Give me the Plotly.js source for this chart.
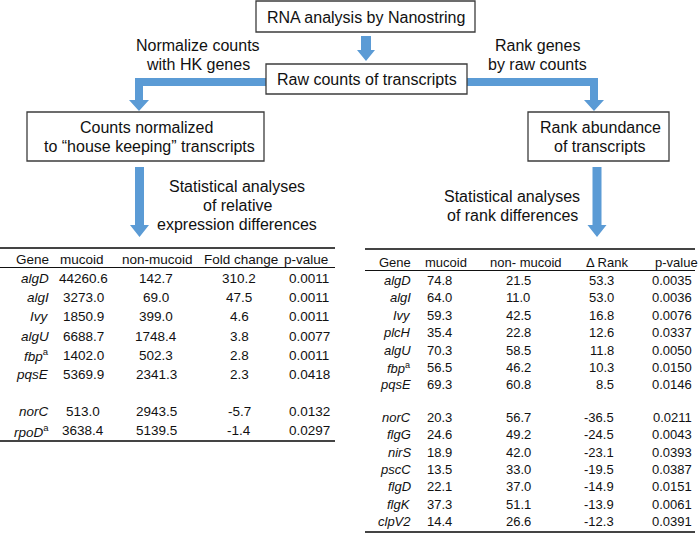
<!DOCTYPE html>
<html>
<head>
<meta charset="utf-8">
<script src="https://cdn.plot.ly/plotly-3.0.1.min.js"></script>
<style>html,body{margin:0;padding:0;background:#fff;}#chart{width:700px;height:534px;}</style>
</head>
<body>
<div id="chart"></div>
<script>
// ---------- Data ----------
const leftHeaders = ['Gene', 'mucoid', 'non-mucoid', 'Fold change', 'p-value'];
const leftGenes = ['algD', 'algI', 'Ivy', 'algU', 'fbp', 'pqsE', 'norC', 'rpoD'];
const leftFootnotes = ['', '', '', '', 'a', '', '', 'a'];
const leftMucoid = [44260.6, 3273.0, 1850.9, 6688.7, 1402.0, 5369.9, 513.0, 3638.4];
const leftNonMucoid = [142.7, 69.0, 399.0, 1748.4, 502.3, 2341.3, 2943.5, 5139.5];
const leftFoldChange = [310.2, 47.5, 4.6, 3.8, 2.8, 2.3, -5.7, -1.4];
const leftPValue = [0.0011, 0.0011, 0.0011, 0.0077, 0.0011, 0.0418, 0.0132, 0.0297];
const leftUpCount = 6;

const rightHeaders = ['Gene', 'mucoid', 'non- mucoid', '\u0394 Rank', 'p-value'];
const rightGenes = ['algD', 'algI', 'Ivy', 'plcH', 'algU', 'fbp', 'pqsE', 'norC', 'flgG', 'nirS', 'pscC', 'flgD', 'flgK', 'clpV2'];
const rightFootnotes = ['', '', '', '', '', 'a', '', '', '', '', '', '', '', ''];
const rightMucoid = [74.8, 64.0, 59.3, 35.4, 70.3, 56.5, 69.3, 20.3, 24.6, 18.9, 13.5, 22.1, 37.3, 14.4];
const rightNonMucoid = [21.5, 11.0, 42.5, 22.8, 58.5, 46.2, 60.8, 56.7, 49.2, 42.0, 33.0, 37.0, 51.1, 26.6];
const rightDeltaRank = [53.3, 53.0, 16.8, 12.6, 11.8, 10.3, 8.5, -36.5, -24.5, -23.1, -19.5, -14.9, -13.9, -12.3];
const rightPValue = [0.0035, 0.0036, 0.0076, 0.0337, 0.0050, 0.0150, 0.0146, 0.0211, 0.0043, 0.0393, 0.0387, 0.0151, 0.0061, 0.0391];
const rightUpCount = 7;

const flowTop = 'RNA analysis by Nanostring';
const flowRaw = 'Raw counts of transcripts';
const flowLeftEdge = ['Normalize counts', 'with HK genes'];
const flowRightEdge = ['Rank genes', 'by raw counts'];
const flowLeftBox = ['Counts normalized', 'to \u201chouse keeping\u201d transcripts'];
const flowRightBox = ['Rank abundance', 'of transcripts'];
const flowLeftStat = ['Statistical analyses', 'of relative', 'expression differences'];
const flowRightStat = ['Statistical analyses', 'of rank differences'];

// ---------- Styles ----------
const FONT = 'Liberation Sans, Arial, sans-serif';
const TXT = '#111111';
const BLUE = '#5B9BD5';
const BOX = '#3c3c3c';

const shapes = [];
const annotations = [];

function box(x0, y0, x1, y1) {
  shapes.push({type: 'rect', xref: 'x', yref: 'y', x0, y0, x1, y1,
    line: {color: BOX, width: 1.3}, fillcolor: '#ffffff', layer: 'below'});
}
function label(text, x, y, size, anchor) {
  annotations.push({text, x, y, xref: 'x', yref: 'y', showarrow: false, borderpad: 0,
    xanchor: anchor || 'center', yanchor: 'middle', font: {family: FONT, size: size || 16, color: TXT}});
}
function poly(pts) {
  const d = 'M' + pts.map(p => p[0] + ',' + p[1]).join(' L') + ' Z';
  shapes.push({type: 'path', xref: 'x', yref: 'y', path: d, fillcolor: BLUE, line: {width: 0}, layer: 'below'});
}
function downArrow(cx, y0, y1, sw, hw, hh) {
  const hy = y1 - hh;
  poly([[cx - sw / 2, y0], [cx + sw / 2, y0], [cx + sw / 2, hy], [cx + hw / 2, hy], [cx, y1],
        [cx - hw / 2, hy], [cx - sw / 2, hy]]);
}
function hline(x0, x1, y, w, c) {
  shapes.push({type: 'line', xref: 'x', yref: 'y', x0, x1, y0: y, y1: y, line: {color: c, width: w}});
}

// ---------- Flowchart ----------
box(256, 1, 475, 32);
label(flowTop, 365.5, 17);
downArrow(366, 36, 61, 10, 18, 11);

poly([[268, 78], [135, 78], [135, 100], [129, 100], [139, 111], [149, 100], [143, 100], [143, 86], [268, 86]]);
poly([[465, 78], [598, 78], [598, 100], [604, 100], [594, 111], [584, 100], [590, 100], [590, 86], [465, 86]]);

box(266, 64, 467, 94);
label(flowRaw, 366.5, 79.5);

flowLeftEdge.forEach((t, i) => label(t, 198, 45 + i * 19));
flowRightEdge.forEach((t, i) => label(t, 537, 45 + i * 19));

box(27, 112, 264, 161);
label(flowLeftBox[0], 146, 127.5);
label(flowLeftBox[1], 149, 146.5);
box(528, 112, 669, 161);
flowRightBox.forEach((t, i) => label(t, 600, 127.5 + i * 19));

downArrow(139.5, 167, 237, 9, 19, 12);
downArrow(597, 167, 237, 9, 19, 12);

flowLeftStat.forEach((t, i) => label(t, 237, 186 + i * 19));
flowRightStat.forEach((t, i) => label(t, 512, 196 + i * 19));

// ---------- Tables ----------
function rowY(i, y0, step, upCount, gap) {
  return y0 + i * step + (i >= upCount ? gap : 0);
}
function geneText(g, f) {
  return '<i>' + g + '</i>' + (f ? '<sup>' + f + '</sup>' : '');
}

// Left table
(function () {
  const size = 13.5;
  const yTop = 248, yHead = 259.5, yUnder = 267.5, y0 = 278.5, step = 19.2, gap = 18, yBottom = 441;
  hline(0, 335, yTop, 2.2, '#444444');
  hline(0, 335, yUnder, 1.2, '#111111');
  hline(0, 335, yBottom, 2.2, '#444444');
  const ys = leftGenes.map((g, i) => rowY(i, y0, step, leftUpCount, gap));
  label(leftHeaders[0], 50, yHead, size, 'right');
  [82, 157, 241, 306].forEach((x, j) => label(leftHeaders[j + 1], x, yHead, size));
  ys.forEach((y, i) => {
    label(geneText(leftGenes[i], leftFootnotes[i]), 50, y, size, 'right');
    label(leftMucoid[i].toFixed(1), 83, y, size);
    label(leftNonMucoid[i].toFixed(1), 156, y, size);
    label(leftFoldChange[i].toFixed(1), 239, y, size);
    label(leftPValue[i].toFixed(4), 309, y, size);
  });
})();

// Right table
(function () {
  const size = 13;
  const yTop = 249, yHead = 262, yUnder = 270.5, y0 = 280.5, step = 17.4, gap = 15, yBottom = 532;
  hline(365, 695, yTop, 2.2, '#444444');
  hline(365, 695, yUnder, 1.2, '#111111');
  hline(365, 695, yBottom, 2.2, '#444444');
  const ys = rightGenes.map((g, i) => rowY(i, y0, step, rightUpCount, gap));
  label(rightHeaders[0], 412, yHead, size, 'right');
  [446, 526, 607, 676].forEach((x, j) => label(rightHeaders[j + 1], x, yHead, size));
  ys.forEach((y, i) => {
    label(geneText(rightGenes[i], rightFootnotes[i]), 412, y, size, 'right');
    label(rightMucoid[i].toFixed(1), 439, y, size);
    label(rightNonMucoid[i].toFixed(1), 518, y, size);
    label(rightDeltaRank[i].toFixed(1), 615, y, size, 'right');
    label(rightPValue[i].toFixed(4), 672, y, size);
  });
})();

const layout = {
  width: 700, height: 534,
  margin: {l: 0, r: 0, t: 0, b: 0, pad: 0},
  paper_bgcolor: '#ffffff', plot_bgcolor: '#ffffff',
  showlegend: false,
  xaxis: {range: [0, 700], visible: false, fixedrange: true},
  yaxis: {range: [534, 0], visible: false, fixedrange: true},
  shapes, annotations
};
Plotly.newPlot('chart', [{type: 'scatter', x: [], y: [], hoverinfo: 'skip', showlegend: false}], layout,
  {displayModeBar: false, staticPlot: true});
</script>
</body>
</html>
